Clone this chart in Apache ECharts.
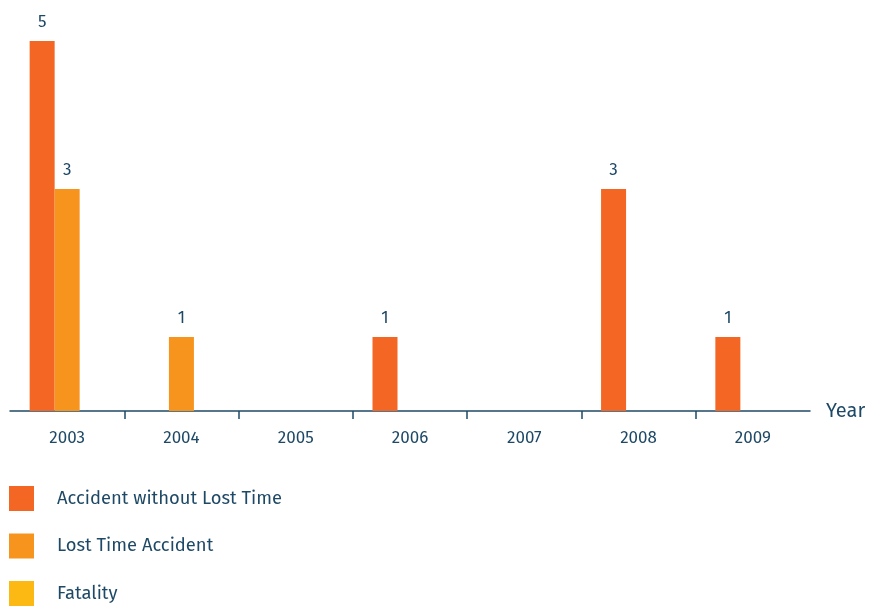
<!DOCTYPE html>
<html>
<head>
<meta charset="utf-8">
<script src="https://cdn.jsdelivr.net/npm/echarts@6/dist/echarts.min.js"></script>
<style>
html,body{margin:0;padding:0;background:#fff;}
#chart{width:876px;height:606px;}
</style>
</head>
<body>
<div id="chart"></div>
<script>
const years = ['2003', '2004', '2005', '2006', '2007', '2008', '2009'];
const withoutLostTime = [5, 0, 0, 1, 0, 3, 1];
const lostTimeAccident = [3, 1, 0, 0, 0, 0, 0];
const fatality = [0, 0, 0, 0, 0, 0, 0];

const seriesNames = ['Accident without Lost Time', 'Lost Time Accident', 'Fatality'];
const seriesColors = ['#F36624', '#F7941D', '#FDB913'];
const seriesData = [withoutLostTime, lostTimeAccident, fatality];

const textColor = '#1E4966';
const fontFamily = '"Fira Sans", "Open Sans", "Noto Sans", sans-serif';

// Boundary positions between the year groups; only the inner ones carry a tick.
const boundaries = ['', '', '', '', '', '', '', ''];

const chart = echarts.init(document.getElementById('chart'));
chart.setOption({
  animation: false,
  grid: { left: 10, right: 66, top: 41, bottom: 195, containLabel: false },
  legend: {
    orient: 'vertical',
    left: 9,
    top: 486,
    padding: 0,
    itemWidth: 25,
    itemHeight: 25,
    itemGap: 22.5,
    icon: 'rect',
    data: seriesNames,
    textStyle: { color: textColor, fontSize: 18.4, fontFamily: fontFamily, padding: [4, 0, 0, 18] }
  },
  xAxis: [{
    type: 'category',
    data: years,
    name: 'Year',
    nameLocation: 'end',
    nameGap: 16,
    nameTextStyle: { color: textColor, fontSize: 20, fontFamily: fontFamily, padding: [6, 0, 0, 0] },
    axisLine: { lineStyle: { color: '#1E4966', width: 1.5 } },
    axisTick: { show: false },
    axisLabel: { color: textColor, fontSize: 17, fontFamily: fontFamily, margin: 19 }
  }, {
    type: 'category',
    data: boundaries,
    position: 'bottom',
    boundaryGap: false,
    axisLine: { show: false },
    axisLabel: { show: false },
    axisTick: {
      show: true,
      length: 8,
      interval: function (i) { return i > 0 && i < boundaries.length - 1; },
      lineStyle: { color: '#1E4966', width: 1.5 }
    }
  }],
  yAxis: { type: 'value', min: 0, max: 5, show: false, splitLine: { show: false } },
  series: seriesNames.map(function (name, k) {
    return {
      name: name,
      type: 'bar',
      xAxisIndex: 0,
      data: seriesData[k],
      barWidth: 25,
      barGap: '0%',
      itemStyle: { color: seriesColors[k] },
      label: {
        show: true,
        position: 'top',
        distance: 10,
        color: textColor,
        fontSize: 17,
        fontFamily: fontFamily,
        formatter: function (p) { return p.value ? String(p.value) : ''; }
      }
    };
  })
});
</script>
</body>
</html>
